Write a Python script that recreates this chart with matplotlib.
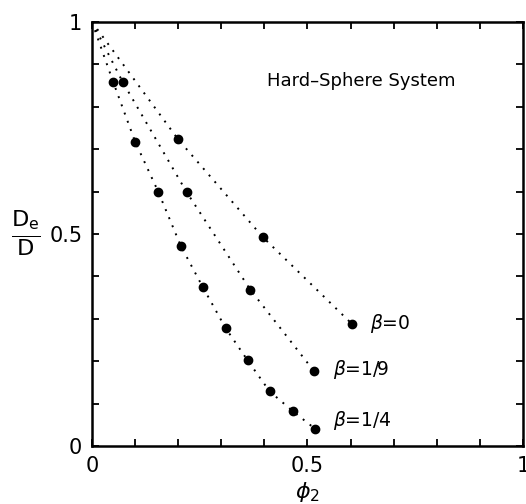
import numpy as np
import matplotlib
matplotlib.use("Agg")
import matplotlib.pyplot as plt

# volume fraction phi_2 and D_e/D; each curve starts at (0, 1)
phi_b0 = [0.0, 0.200, 0.397, 0.604]
de_b0 = [1.0, 0.723, 0.492, 0.287]

phi_b19 = [0.0, 0.071, 0.220, 0.367, 0.514]
de_b19 = [1.0, 0.859, 0.598, 0.369, 0.178]

phi_b14 = [0.0, 0.049, 0.100, 0.154, 0.206, 0.257, 0.310, 0.361, 0.412, 0.466, 0.517]
de_b14 = [1.0, 0.859, 0.718, 0.599, 0.472, 0.375, 0.278, 0.202, 0.129, 0.082, 0.041]

curve_labels = [r"$\beta$=0", r"$\beta$=1/9", r"$\beta$=1/4"]
tick_vals = np.round(np.arange(0, 1.01, 0.1), 2)
tick_text = {0.0: "0", 0.5: "0.5", 1.0: "1"}

plt.rcParams["font.family"] = ["DejaVu Sans"]

fig = plt.figure(figsize=(5.26, 5.04), dpi=100)
ax = fig.add_axes([0.1749, 0.1151, 0.8194, 0.8412])

curves = [(phi_b0, de_b0), (phi_b19, de_b19), (phi_b14, de_b14)]
for xs, ys in curves:
    ax.plot(xs, ys, color="black", linestyle=(0, (1, 3.5)), linewidth=1.4)
    ax.plot(xs[1:], ys[1:], "o", color="black", markersize=6)

# curve labels, placed to the right of the last point
label_pos = [(0.645, 0.29), (0.56, 0.18), (0.56, 0.06)]
for (lx, ly), txt in zip(label_pos, curve_labels):
    ax.text(lx, ly, txt, fontsize=13.5, va="center", ha="left")

ax.text(0.405, 0.862, "Hard\u2013Sphere System", fontsize=13, va="center", ha="left")

ax.set_xlim(0, 1)
ax.set_ylim(0, 1)
ax.set_xticks(tick_vals)
ax.set_yticks(tick_vals)
ax.set_xticklabels([tick_text.get(v, "") for v in tick_vals])
ax.set_yticklabels([tick_text.get(v, "") for v in tick_vals])
ax.tick_params(direction="in", length=5, width=1.3, labelsize=15, pad=7,
               top=True, right=True)
for s in ax.spines.values():
    s.set_linewidth(1.8)

ax.set_xlabel(r"$\phi_2$", fontsize=16, labelpad=3)
fig.text(0.05, 0.537, r"$\frac{\mathrm{D_e}}{\mathrm{D}}$", fontsize=23,
         ha="center", va="center")

fig.savefig("out.png", dpi=100)
